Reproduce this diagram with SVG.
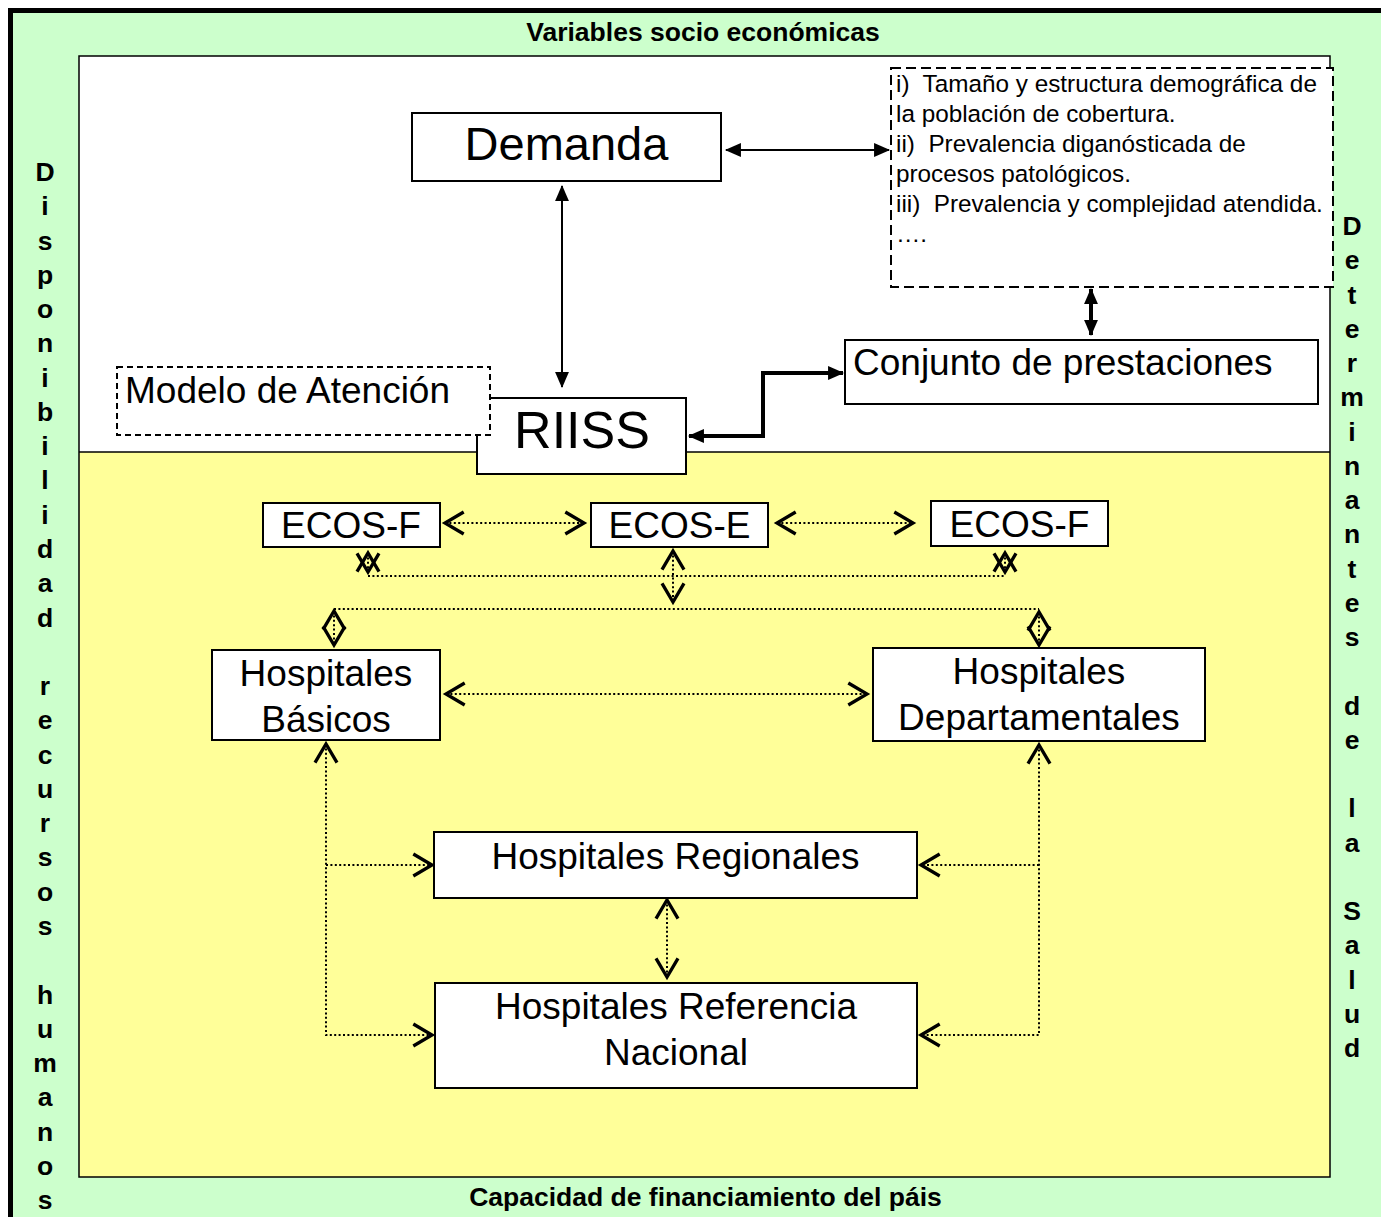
<svg xmlns="http://www.w3.org/2000/svg" width="1381" height="1217" viewBox="0 0 1381 1217">
<style>
.box{fill:#fff;stroke:#000;stroke-width:2}
.dbox{fill:#fff;stroke:#000;stroke-width:2}
.t{font-family:"Liberation Sans",Arial,sans-serif;fill:#000}
.n{font-size:37px;text-anchor:middle}
.b{font-weight:bold;font-size:26.5px;text-anchor:middle}
.info{font-size:24.3px;white-space:pre}
.solid{fill:none;stroke:#000;stroke-width:2}
.thick{fill:none;stroke:#000;stroke-width:4}
.dot{fill:none;stroke:#000;stroke-width:2;stroke-dasharray:2 2.4}
</style>
<defs>
<marker id="fa" markerUnits="userSpaceOnUse" markerWidth="16" markerHeight="14" viewBox="0 0 15 13" refX="14" refY="6.5" orient="auto-start-reverse" overflow="visible">
<path d="M0,0 L15,6.5 L0,13 z" fill="#000"/>
</marker>
<marker id="oa" markerUnits="userSpaceOnUse" markerWidth="20" markerHeight="22" viewBox="0 0 17 20" refX="17" refY="10" orient="auto-start-reverse" overflow="visible">
<path d="M0,0 L17,10 L0,20" fill="none" stroke="#000" stroke-width="3"/>
</marker>
</defs>
<rect x="10.5" y="10.5" width="1400" height="1240" fill="#CCFFCC" stroke="#000" stroke-width="5"/>
<rect x="79" y="56" width="1251" height="396" fill="#fff"/>
<rect x="79" y="452" width="1251" height="725" fill="#FFFF99"/>
<rect x="79" y="56" width="1251" height="1121" fill="none" stroke="#000" stroke-width="1.5"/>
<line x1="79" y1="452" x2="1330" y2="452" stroke="#000" stroke-width="1.5"/>
<g id="frame-labels" class="t">
<text class="b" x="703" y="41">Variables socio económicas</text>
<text class="b" x="705.5" y="1206">Capacidad de financiamiento del páis</text>
<g id="left-label" class="b">
<text x="45" y="181">D</text><text x="45" y="215.3">i</text><text x="45" y="249.5">s</text><text x="45" y="283.8">p</text><text x="45" y="318.1">o</text><text x="45" y="352.4">n</text><text x="45" y="386.6">i</text><text x="45" y="420.9">b</text><text x="45" y="455.2">i</text><text x="45" y="489.4">l</text><text x="45" y="523.7">i</text><text x="45" y="558">d</text><text x="45" y="592.3">a</text><text x="45" y="626.5">d</text>
<text x="45" y="695.1">r</text><text x="45" y="729.3">e</text><text x="45" y="763.6">c</text><text x="45" y="797.9">u</text><text x="45" y="832.2">r</text><text x="45" y="866.4">s</text><text x="45" y="900.7">o</text><text x="45" y="935">s</text>
<text x="45" y="1003.5">h</text><text x="45" y="1037.8">u</text><text x="45" y="1072.1">m</text><text x="45" y="1106.3">a</text><text x="45" y="1140.6">n</text><text x="45" y="1174.9">o</text><text x="45" y="1209.1">s</text>
</g>
<g id="right-label" class="b">
<text x="1352" y="235">D</text><text x="1352" y="269.3">e</text><text x="1352" y="303.5">t</text><text x="1352" y="337.8">e</text><text x="1352" y="372">r</text><text x="1352" y="406.3">m</text><text x="1352" y="440.5">i</text><text x="1352" y="474.8">n</text><text x="1352" y="509">a</text><text x="1352" y="543.3">n</text><text x="1352" y="577.5">t</text><text x="1352" y="611.8">e</text><text x="1352" y="646">s</text>
<text x="1352" y="714.5">d</text><text x="1352" y="748.8">e</text>
<text x="1352" y="817.3">l</text><text x="1352" y="851.5">a</text>
<text x="1352" y="920">S</text><text x="1352" y="954.3">a</text><text x="1352" y="988.5">l</text><text x="1352" y="1022.8">u</text><text x="1352" y="1057">d</text>
</g>
</g>
<g id="connectors">
<line class="solid" x1="726" y1="150" x2="889" y2="150" marker-start="url(#fa)" marker-end="url(#fa)"/>
<line class="solid" x1="562" y1="186" x2="562" y2="387" marker-start="url(#fa)" marker-end="url(#fa)"/>
<polyline class="thick" points="689,436 763,436 763,373 843,373" marker-start="url(#fa)" marker-end="url(#fa)"/>
<line class="thick" x1="1091" y1="289" x2="1091" y2="335" marker-start="url(#fa)" marker-end="url(#fa)"/>
<line class="dot" x1="445" y1="523" x2="584" y2="523" marker-start="url(#oa)" marker-end="url(#oa)"/>
<line class="dot" x1="777" y1="523" x2="913" y2="523" marker-start="url(#oa)" marker-end="url(#oa)"/>
<line class="dot" x1="368" y1="576" x2="1005" y2="576"/>
<line class="dot" x1="368" y1="553" x2="368" y2="572" marker-start="url(#oa)" marker-end="url(#oa)"/>
<line class="dot" x1="1005" y1="553" x2="1005" y2="572" marker-start="url(#oa)" marker-end="url(#oa)"/>
<line class="dot" x1="673" y1="551" x2="673" y2="602" marker-start="url(#oa)" marker-end="url(#oa)"/>
<line class="dot" x1="334" y1="609" x2="1039" y2="609"/>
<line class="dot" x1="334" y1="611" x2="334" y2="645" marker-start="url(#oa)" marker-end="url(#oa)"/>
<line class="dot" x1="1039" y1="612" x2="1039" y2="645" marker-start="url(#oa)" marker-end="url(#oa)"/>
<line class="dot" x1="446" y1="694" x2="867" y2="694" marker-start="url(#oa)" marker-end="url(#oa)"/>
<polyline class="dot" points="326,744 326,1035 432,1035" marker-start="url(#oa)" marker-end="url(#oa)"/>
<line class="dot" x1="326" y1="865" x2="432" y2="865" marker-end="url(#oa)"/>
<polyline class="dot" points="1039,745 1039,1035 921,1035" marker-start="url(#oa)" marker-end="url(#oa)"/>
<line class="dot" x1="1039" y1="865" x2="921" y2="865" marker-end="url(#oa)"/>
<line class="dot" x1="667" y1="900" x2="667" y2="977" marker-start="url(#oa)" marker-end="url(#oa)"/>
</g>
<g id="info" class="t">
<rect class="dbox" x="891" y="68" width="442" height="219" stroke-dasharray="10 5"/>
<text class="info" x="896" y="92">i)  Tamaño y estructura demográfica de</text>
<text class="info" x="896" y="122">la población de cobertura.</text>
<text class="info" x="896" y="152">ii)  Prevalencia diganósticada de</text>
<text class="info" x="896" y="182">procesos patológicos.</text>
<text class="info" x="896" y="212">iii)  Prevalencia y complejidad atendida.</text>
<text class="info" x="896" y="242">….</text>
</g>
<g id="demanda" class="t">
<rect class="box" x="412" y="113" width="309" height="68"/>
<text x="566.5" y="160" style="font-size:47px;text-anchor:middle">Demanda</text>
</g>
<g id="riiss" class="t">
<rect class="box" x="477" y="398" width="209" height="76"/>
<text x="582" y="448" style="font-size:52px;text-anchor:middle">RIISS</text>
</g>
<g id="modelo" class="t">
<rect class="dbox" x="117" y="367" width="373" height="68" stroke-dasharray="6 4"/>
<text x="125" y="403" style="font-size:37px">Modelo de Atención</text>
</g>
<g id="conjunto" class="t">
<rect class="box" x="845" y="340" width="473" height="64"/>
<text x="853" y="375" style="font-size:37px">Conjunto de prestaciones</text>
</g>
<g id="ecos-f-1" class="t">
<rect class="box" x="263" y="503" width="177" height="44"/>
<text class="n" x="351" y="538">ECOS-F</text>
</g>
<g id="ecos-e" class="t">
<rect class="box" x="591" y="503" width="177" height="44"/>
<text class="n" x="679.5" y="538">ECOS-E</text>
</g>
<g id="ecos-f-2" class="t">
<rect class="box" x="931" y="501" width="177" height="45"/>
<text class="n" x="1019.5" y="537">ECOS-F</text>
</g>
<g id="hosp-basicos" class="t">
<rect class="box" x="212" y="650" width="228" height="90"/>
<text class="n" x="326" y="686">Hospitales</text>
<text class="n" x="326" y="732">Básicos</text>
</g>
<g id="hosp-departamentales" class="t">
<rect class="box" x="873" y="648" width="332" height="93"/>
<text class="n" x="1039" y="684">Hospitales</text>
<text class="n" x="1039" y="730">Departamentales</text>
</g>
<g id="hosp-regionales" class="t">
<rect class="box" x="434" y="832" width="483" height="66"/>
<text class="n" x="675.5" y="869">Hospitales Regionales</text>
</g>
<g id="hosp-referencia" class="t">
<rect class="box" x="435" y="983" width="482" height="105"/>
<text class="n" x="676" y="1019">Hospitales Referencia</text>
<text class="n" x="676" y="1065">Nacional</text>
</g>
</svg>
